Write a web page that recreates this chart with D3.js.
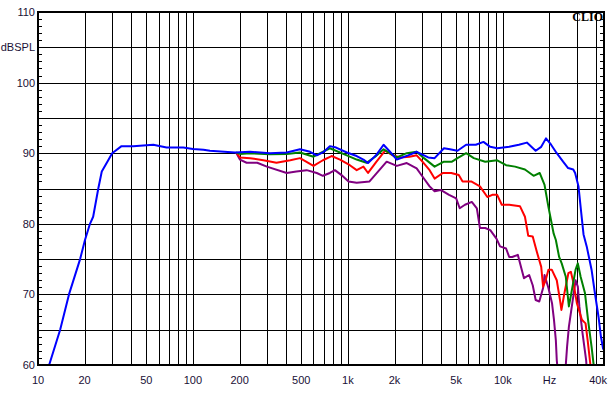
<!DOCTYPE html>
<html><head><meta charset="utf-8">
<script src="https://cdn.jsdelivr.net/npm/d3@7/dist/d3.min.js"></script>
<style>
html,body{margin:0;padding:0;background:#fff;}
svg{display:block;}
text{font-family:Arial,"Liberation Sans",sans-serif;font-size:11px;fill:#1a1036;}
</style></head>
<body>
<svg id="chart" width="612" height="393"></svg>
<script>
// ---- data (frequency Hz, level dBSPL) ----
const blue = [[11.8,60],[13.9,65],[15.85,70],[18.7,75],[20.1,77.7],[21.65,80],[22.7,81],[24.5,85],[25.8,87.4],[28.4,89],[30.1,90],[34.6,91],[41.2,91],[55.5,91.2],[67.6,90.8],[86.6,90.8],[100,90.6],[117,90.5],[128.7,90.35],[187,90.1],[234,90.2],[314,90.0],[403,90.1],[491,90.55],[570,90.2],[630,89.7],[700,90.2],[765,91.0],[840,90.8],[985,90.1],[1140,89.6],[1260,89.1],[1350,88.6],[1520,89.7],[1700,91.2],[1870,90.2],[2070,89.1],[2450,89.7],[2780,90.2],[3300,89.4],[3630,89.3],[4170,90.7],[4560,90.55],[5100,90.35],[5800,91.2],[6700,91.2],[7500,91.6],[8300,90.9],[9200,90.7],[11000,90.9],[12700,91.2],[14300,91.5],[16300,90.35],[17700,90.9],[19000,92.1],[20500,91.2],[22300,90.0],[24500,88.8],[26400,87.9],[28500,87.7],[29300,87.2],[30800,85.3],[32000,81.8],[33200,78.5],[34800,76.8],[37400,73.5],[39300,70.2],[41500,66.8],[43000,64.0],[44500,62.2]];
const green = [[190,90.1],[201,89.9],[234,90.0],[314,89.85],[403,89.9],[491,90.1],[600,89.5],[765,90.7],[985,89.7],[1140,89.1],[1320,88.65],[1500,89.5],[1700,90.55],[2070,89.4],[2400,90.0],[2780,90.2],[3100,89.3],[3630,88.1],[4170,88.8],[4700,88.8],[5100,89.3],[5800,90.0],[6500,89.3],[7700,88.8],[9200,89.0],[10500,88.3],[12000,88.1],[13900,87.7],[15800,86.8],[17300,87.2],[18600,85.5],[19700,82.4],[21300,78.6],[22000,77.7],[23100,75.3],[24000,74.4],[25500,72.5],[26700,68.3],[27700,70.2],[29500,73.5],[30500,74.4],[31800,72.5],[33900,70.2],[35500,66.4],[37400,62.6],[38500,60.2],[39500,58]];
const red = [[190,90.1],[201,89.4],[234,89.3],[285,89.0],[346,88.65],[425,89.0],[491,89.3],[600,88.2],[690,89.0],[785,89.6],[890,89.1],[1030,88.3],[1140,87.6],[1260,88.1],[1350,87.2],[1530,88.8],[1740,90.35],[1950,89.7],[2180,89.4],[2500,89.5],[2780,89.7],[3030,88.8],[3370,87.6],[3630,86.4],[4100,87.2],[4650,87.2],[5200,86.9],[5500,86.0],[6250,86.0],[7120,85.3],[7950,83.8],[8550,84.1],[9200,84.1],[9850,82.7],[11000,82.7],[12900,82.5],[13900,81.0],[14600,78.3],[15600,78.2],[16600,76.0],[17700,73.9],[18200,71.1],[18900,72.0],[19700,73.5],[20700,73.5],[22300,72.0],[23400,69.2],[23900,67.8],[25000,70.2],[26500,73.0],[27500,73.2],[28600,71.6],[30100,68.7],[32400,66.4],[34200,65.9],[35300,63.5],[36700,60.2],[37500,58]];
const purple = [[190,90.1],[201,89.1],[222,88.65],[260,88.65],[300,88.1],[403,87.2],[465,87.4],[542,87.6],[630,87.2],[690,86.8],[765,87.2],[825,87.6],[910,86.9],[1010,86.0],[1140,85.8],[1380,86.0],[1540,87.2],[1780,88.8],[2070,88.2],[2400,88.6],[2780,87.85],[3030,86.7],[3370,85.3],[3630,84.6],[3970,84.8],[4500,84.1],[5000,83.6],[5270,82.2],[5700,82.7],[6310,83.1],[6800,82.2],[7120,79.4],[7700,79.4],[8300,79.1],[9100,77.9],[9600,76.8],[10500,76.5],[11000,75.3],[11500,75.3],[12500,75.6],[13700,72.3],[14800,72.75],[15600,71.3],[16300,69.2],[17200,69.0],[18200,70.9],[18600,72.75],[19700,70.9],[20800,68.7],[21400,66.4],[22000,63.5],[22300,60.7],[22900,58],[24800,58],[25500,60],[26000,62.6],[26700,65.4],[28200,69.0],[29500,72.0],[30500,71.1],[31200,68.3],[32700,64.5],[34500,60.7],[35200,58]];
const yTicks = [60,70,80,90,100,110];
const xTickVals = [10,20,50,100,200,500,1000,2000,5000,10000,20000,40000];
const xTickLabels = ["10","20","50","100","200","500","1k","2k","5k","10k","Hz","40k"];

const svg = d3.select("#chart");
const L=38, R=604, T=12, B=365;
const x = d3.scaleLog().domain([10,45000]).range([L,R]);
const y = d3.scaleLinear().domain([60,110]).range([B,T]);

// vertical grid
const vgrid=[];
for (let d=10; d<=10000; d*=10) for (let k=1;k<=9;k++){ const f=d*k; if(f>10 && f<=40000) vgrid.push(f);}
vgrid.push(20000,30000,40000);
svg.append("g").selectAll("line").data(vgrid).join("line")
  .attr("x1",d=>Math.round(x(d))+0.5).attr("x2",d=>Math.round(x(d))+0.5)
  .attr("y1",T).attr("y2",B).attr("stroke","#000").attr("stroke-width",1);
// horizontal grid
const hgrid = d3.range(65,110,5);
svg.append("g").selectAll("line").data(hgrid).join("line")
  .attr("x1",L).attr("x2",R)
  .attr("y1",d=>Math.round(y(d))+0.5).attr("y2",d=>Math.round(y(d))+0.5)
  .attr("stroke","#000").attr("stroke-width",1);
// minor ticks inside left and right borders
const minor = d3.range(61,110,1).filter(v=>v%5!==0);
svg.append("g").selectAll("line").data(minor).join("line")
  .attr("x1",L).attr("x2",L+4).attr("y1",d=>Math.round(y(d))+0.5).attr("y2",d=>Math.round(y(d))+0.5)
  .attr("stroke","#000");
svg.append("g").selectAll("line").data(minor).join("line")
  .attr("x1",R-4).attr("x2",R).attr("y1",d=>Math.round(y(d))+0.5).attr("y2",d=>Math.round(y(d))+0.5)
  .attr("stroke","#000");

// curves
svg.append("clipPath").attr("id","clip").append("rect").attr("x",L).attr("y",T).attr("width",R-L).attr("height",B-T);
const line = d3.line().x(d=>x(d[0])).y(d=>y(d[1])).curve(d3.curveLinear);
const series = [[purple,"#800080"],[red,"#ff0000"],[green,"#008000"],[blue,"#0000ff"]];
const cg = svg.append("g").attr("clip-path","url(#clip)");
series.forEach(([data,col])=>{
  cg.append("path").datum(data).attr("d",line).attr("fill","none").attr("stroke",col).attr("stroke-width",2).attr("stroke-linejoin","round");
});

// border
svg.append("rect").attr("x",L).attr("y",T).attr("width",R-L).attr("height",B-T)
  .attr("fill","none").attr("stroke","#000").attr("stroke-width",2);

// y labels
svg.append("g").selectAll("text").data(yTicks).join("text")
  .attr("x",L-3).attr("y",d=>y(d)+4).attr("text-anchor","end").text(d=>d);
svg.append("text").attr("x",L-3).attr("y",y(105)+4).attr("text-anchor","end").text("dBSPL");
// x labels
svg.append("g").selectAll("text").data(xTickVals).join("text")
  .attr("x",(d,i)=>i===xTickVals.length-1 ? x(d)+2 : x(d)).attr("y",384).attr("text-anchor","middle")
  .text((d,i)=>xTickLabels[i]);
// CLIO
svg.append("text").attr("x",603).attr("y",21).attr("text-anchor","end")
  .style("font-family","'Liberation Serif','DejaVu Serif',serif").style("font-weight","bold").style("font-size","12px").style("fill","#000")
  .text("CLIO");
</script>
</body></html>
